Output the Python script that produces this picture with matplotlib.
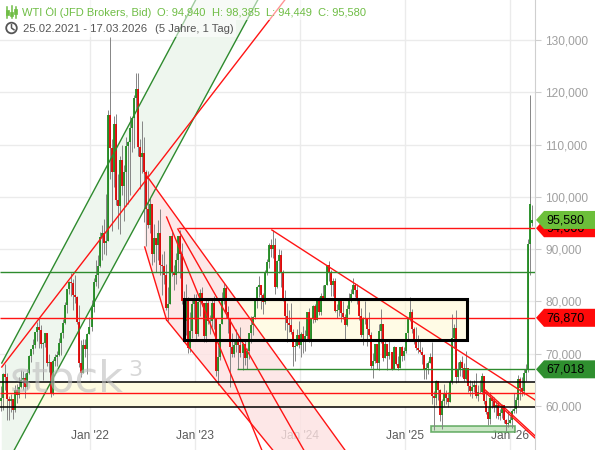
import matplotlib
matplotlib.use("Agg")
import matplotlib.pyplot as plt
import matplotlib.dates as mdates
from matplotlib.patches import Polygon, Rectangle, Circle
import numpy as np
import pandas as pd

plt.rcParams['font.family'] = ['Liberation Sans', 'DejaVu Sans']

# ---------------- weekly OHLC (USD) ----------------
close_2021 = [61.5, 66.1, 65.6, 61.4, 60.9, 61.4, 59.3, 63.1, 62.1, 63.6, 64.9, 65.4, 63.6, 66.3, 69.6, 70.9, 71.6, 74.1, 75.2, 74.6, 71.8, 72.1, 73.9, 68.3, 68.4, 62.3, 68.7, 69.3, 69.7, 72.0, 74.0, 75.9, 79.4, 82.3, 83.8, 83.6, 81.3, 80.8, 76.1, 68.2, 66.3, 71.7, 70.9, 73.8, 75.2]
high_2021 = [63.8, 66.4, 68.0, 66.4, 61.9, 62.3, 61.4, 64.0, 64.2, 65.5, 66.8, 66.7, 66.3, 67.0, 69.8, 70.8, 72.9, 74.2, 76.0, 77.0, 75.5, 72.3, 74.0, 73.9, 70.0, 68.3, 69.0, 70.0, 70.5, 73.1, 74.2, 76.7, 79.8, 82.2, 84.0, 85.4, 84.2, 85.0, 81.1, 79.3, 72.7, 72.9, 72.9, 73.9, 77.0]
low_2021 = [59.0, 59.2, 63.1, 57.3, 57.3, 58.9, 57.6, 58.9, 60.6, 61.5, 63.4, 63.1, 61.6, 63.2, 66.1, 68.5, 70.0, 71.0, 72.5, 71.0, 71.0, 65.0, 71.3, 67.6, 66.5, 61.7, 62.2, 67.6, 67.6, 69.5, 69.7, 73.0, 75.6, 77.8, 81.4, 81.1, 78.3, 79.7, 75.6, 67.5, 65.5, 67.6, 69.3, 66.1, 73.8]

close_2022 = [78.9, 83.8, 85.1, 86.8, 92.3, 93.1, 91.1, 91.6, 115.7, 109.3, 104.7, 113.9, 99.3, 98.3, 107.0, 102.1, 104.7, 109.8, 110.5, 113.2, 115.1, 118.9, 120.7, 109.6, 107.6, 108.4, 104.8, 97.6, 94.7, 98.6, 89.0, 92.1, 90.8, 93.1, 86.9, 86.8, 85.1, 78.7, 79.5, 92.6, 85.6, 85.1, 87.9, 92.6, 89.0, 80.1, 76.3, 80.0, 71.0, 74.3, 79.6, 80.3]
high_2022 = [80.2, 84.4, 87.9, 88.8, 93.2, 94.7, 95.8, 100.5, 116.6, 130.5, 111.1, 115.5, 115.8, 104.4, 107.8, 109.9, 106.0, 111.4, 110.6, 115.5, 115.1, 119.4, 123.7, 123.7, 111.0, 114.5, 111.5, 105.2, 104.9, 99.7, 98.7, 94.8, 92.0, 95.6, 97.6, 89.0, 89.6, 87.2, 82.8, 92.6, 93.6, 86.9, 89.2, 92.3, 93.7, 91.2, 81.9, 83.3, 80.9, 77.9, 80.3, 81.5]
low_2022 = [74.3, 77.9, 82.9, 82.5, 86.6, 87.9, 89.1, 88.8, 92.0, 103.5, 93.5, 101.9, 98.4, 93.9, 92.9, 100.4, 95.3, 98.2, 98.7, 100.3, 108.5, 109.3, 116.5, 107.8, 101.5, 104.6, 95.1, 90.6, 94.0, 93.0, 87.0, 87.6, 85.7, 88.0, 85.0, 81.2, 83.3, 78.3, 76.3, 79.5, 84.8, 82.1, 83.4, 85.7, 84.5, 79.6, 75.3, 73.6, 70.1, 70.3, 73.0, 76.7]

close_2023 = [73.8, 79.9, 81.6, 79.7, 73.4, 79.7, 76.3, 76.3, 79.7, 76.7, 66.7, 69.3, 75.7, 80.7, 82.5, 77.9, 76.8, 71.3, 70.0, 71.7, 72.7, 71.7, 70.2, 71.8, 69.2, 70.6, 73.9, 75.4, 77.1, 80.6, 82.8, 83.2, 81.3, 79.8, 85.6, 87.5, 90.8, 90.0, 90.8, 82.8, 87.7, 88.8, 85.5, 80.5, 77.2, 75.9, 75.5, 74.1, 71.2, 71.4, 73.6, 71.7]
high_2023 = [81.5, 80.1, 82.4, 82.7, 79.7, 80.4, 80.5, 77.5, 80.4, 81.0, 76.9, 71.7, 75.7, 81.8, 83.5, 83.1, 79.2, 76.9, 73.9, 72.6, 74.7, 73.8, 75.1, 72.0, 72.7, 71.0, 73.9, 77.3, 77.3, 80.7, 83.0, 84.9, 83.2, 81.6, 86.0, 88.1, 91.2, 92.0, 93.7, 92.2, 88.0, 90.0, 89.9, 86.0, 82.1, 79.7, 78.3, 79.7, 74.8, 72.7, 74.8, 76.2]
low_2023 = [72.5, 73.4, 77.3, 79.2, 72.3, 72.3, 75.6, 73.8, 75.2, 74.7, 65.7, 64.1, 68.8, 75.7, 79.6, 76.9, 74.0, 63.6, 69.4, 69.4, 70.4, 67.0, 69.4, 66.8, 67.8, 67.1, 69.0, 72.1, 73.5, 76.6, 78.8, 80.9, 78.6, 77.6, 79.6, 85.1, 86.4, 88.5, 88.3, 81.5, 82.5, 85.5, 82.7, 80.1, 74.6, 72.2, 74.2, 73.8, 67.7, 68.7, 71.4, 71.1]

close_2024 = [73.8, 72.7, 73.4, 78.0, 72.3, 76.8, 79.2, 76.5, 80.0, 78.0, 81.0, 80.6, 83.2, 86.9, 85.7, 83.1, 83.9, 78.1, 78.3, 80.1, 77.7, 77.0, 75.5, 78.5, 80.7, 81.5, 83.2, 82.2, 80.1, 77.2, 73.5, 76.8, 76.7, 74.8, 73.6, 67.7, 68.7, 71.9, 68.2, 74.4, 75.6, 69.2, 71.8, 69.5, 70.4, 67.0, 71.2, 68.0, 67.2, 71.3, 69.5, 70.6]
high_2024 = [74.2, 75.3, 74.6, 78.0, 78.8, 76.9, 79.3, 79.6, 80.6, 80.9, 81.6, 83.1, 83.2, 87.0, 87.7, 86.0, 84.5, 84.5, 79.6, 80.2, 79.9, 80.1, 77.6, 79.4, 81.6, 82.4, 84.5, 83.6, 83.4, 80.2, 78.8, 77.1, 80.1, 76.8, 78.0, 74.1, 70.1, 71.9, 71.9, 75.6, 78.5, 75.2, 72.5, 71.6, 72.9, 70.3, 71.5, 71.2, 69.5, 71.3, 71.5, 71.2]
low_2024 = [69.3, 70.1, 70.6, 72.6, 72.3, 71.4, 75.8, 76.1, 76.4, 77.4, 77.4, 80.3, 80.3, 83.4, 84.0, 81.1, 81.1, 77.9, 76.8, 77.3, 76.0, 76.6, 72.5, 75.3, 77.6, 79.8, 81.5, 80.9, 79.6, 76.4, 73.2, 71.7, 75.6, 71.5, 73.3, 67.2, 65.3, 68.3, 67.1, 66.9, 72.1, 68.6, 69.2, 66.8, 69.0, 66.9, 67.0, 67.9, 66.9, 67.3, 68.6, 68.8]

close_2025 = [74.0, 76.6, 77.9, 74.7, 72.5, 71.0, 70.7, 70.4, 69.8, 67.0, 67.2, 68.3, 69.4, 62.0, 61.5, 64.7, 63.0, 58.3, 61.0, 62.5, 61.5, 60.8, 64.6, 73.0, 74.9, 65.5, 67.0, 68.5, 67.3, 65.2, 67.3, 63.9, 62.8, 63.7, 64.0, 61.9, 62.7, 62.7, 65.7, 60.9, 58.9, 57.5, 61.5, 61.0, 59.8, 60.1, 58.1, 58.6, 60.1, 57.4, 56.5, 56.7]
high_2025 = [74.0, 77.1, 80.8, 78.6, 75.1, 75.2, 73.6, 72.9, 71.2, 70.0, 68.3, 68.6, 70.2, 72.2, 62.9, 65.0, 64.8, 63.2, 61.4, 64.2, 63.0, 62.7, 64.9, 77.6, 75.7, 78.4, 68.5, 68.8, 69.6, 68.3, 70.5, 67.2, 64.9, 64.7, 65.0, 66.4, 64.0, 65.0, 66.4, 65.8, 62.8, 59.8, 62.6, 62.0, 61.8, 61.0, 60.9, 59.5, 60.3, 59.9, 57.6, 59.0]
low_2025 = [70.2, 72.9, 76.2, 74.0, 71.9, 70.8, 70.2, 70.2, 68.0, 65.2, 65.2, 66.1, 68.2, 60.4, 55.4, 60.2, 61.2, 57.2, 55.6, 60.0, 60.3, 59.9, 61.2, 64.3, 71.0, 64.4, 64.5, 65.7, 65.5, 64.7, 65.0, 62.7, 61.9, 61.6, 62.7, 61.5, 61.0, 62.5, 62.3, 60.4, 58.4, 56.3, 56.5, 59.6, 58.8, 57.8, 57.5, 57.4, 57.8, 56.8, 55.2, 55.9]

close_2026 = [57.3, 59.1, 59.4, 61.1, 65.2, 63.5, 62.9, 66.4, 67.0, 90.9, 98.7, 95.58]
high_2026 = [58.0, 59.5, 62.4, 61.8, 66.0, 65.5, 65.5, 67.0, 68.0, 92.0, 119.5, 98.385]
low_2026 = [56.8, 55.8, 58.6, 58.6, 60.0, 61.1, 62.0, 62.2, 64.8, 66.5, 85.0, 94.449]

first_week_end = "2021-02-26"
last_day = "2026-03-17"
first_open = 60.9
last_open = 94.94

# ---------------- axis ranges / ticks ----------------
x_range = ("2021-02-22 20:00", "2026-03-28 22:00")
y_range = (51.59, 137.64)
y_ticks = [60, 70, 80, 90, 100, 110, 120, 130]

# ---------------- drawing objects (date, value) ----------------
green_channel_upper = [("2021-03-01", 68.22), ("2023-01-04", 137.64)]
green_channel_lower = [("2021-03-01", 47.19), ("2023-08-08", 137.64)]
red_rising = [("2021-03-01", 67.46), ("2023-11-10", 137.64)]
pink_channel = [("2022-07-11", 104.56), ("2024-06-06", 51.59), ("2023-09-29", 51.59),
                ("2022-09-25", 76.45), ("2022-07-11", 90.41)]
red_falling = [
    [("2022-11-03", 93.85), ("2024-01-15", 51.59)],
    [("2022-09-25", 96.14), ("2023-08-22", 51.59)],
    [("2023-09-26", 93.66), ("2026-03-29", 61.15)],
    [("2025-10-06", 62.68), ("2026-03-29", 53.88)],
    [("2025-10-06", 63.10), ("2026-03-29", 54.30)],
]
level_red_top = (94.0, "2022-11-03")
level_green_mid = 85.63
level_red_mid = 76.87
level_green_low = (67.018, "2023-05-27")
band = (59.81, 64.59, 62.49)
box_range = ("2022-11-26", "2025-08-04", 72.62, 80.46)
green_box = ("2025-03-31", "2026-01-18", 55.0, 56.2)

header_title = "WTI Öl (JFD Brokers, Bid)"
header_ohlc = ["O: 94,940", "H: 98,385", "L: 94,449", "C: 95,580"]
header_range = "25.02.2021 - 17.03.2026"
header_period = "(5 Jahre, 1 Tag)"

RED = '#ff1414'
GREEN = '#2e8b2e'

# ---------------- figure ----------------
W, H = 595, 450
fig = plt.figure(figsize=(W / 100, H / 100), dpi=100)
ax = fig.add_axes([0, 0, 535 / W, 1])
ax.set_xlim(mdates.date2num(pd.Timestamp(x_range[0])), mdates.date2num(pd.Timestamp(x_range[1])))
ax.set_ylim(*y_range)

def D(s):
    return mdates.date2num(pd.Timestamp(s))

def seg(pts, **kw):
    ax.plot([D(p[0]) for p in pts], [p[1] for p in pts], **kw)

x0, x1 = ax.get_xlim()

# fills
gpoly = [green_channel_upper[0], green_channel_upper[1], green_channel_lower[1], green_channel_lower[0]]
ax.add_patch(Polygon([(D(a), b) for a, b in gpoly], closed=True, facecolor='#eef6ee', edgecolor='none', zorder=1))
ax.add_patch(Polygon([(D(a), b) for a, b in pink_channel], closed=True, facecolor='#fde2e2', alpha=0.8, edgecolor='none', zorder=1.2))
ax.add_patch(Rectangle((x0, band[0]), x1 - x0, band[1] - band[0], facecolor='#fefbe1', edgecolor='none', zorder=1))
bx0, bx1 = D(box_range[0]), D(box_range[1])
ax.add_patch(Rectangle((bx0, box_range[2]), bx1 - bx0, box_range[3] - box_range[2], facecolor='#fff9d0', alpha=0.55, edgecolor='none', zorder=1.1))
gx0, gx1 = D(green_box[0]), D(green_box[1])
ax.add_patch(Rectangle((gx0, green_box[2]), gx1 - gx0, green_box[3] - green_box[2], facecolor='#bfe0b8', alpha=0.8, edgecolor='#4ea04e', lw=1.2, zorder=2))

# candles
closes = close_2021 + close_2022 + close_2023 + close_2024 + close_2025 + close_2026
highs = high_2021 + high_2022 + high_2023 + high_2024 + high_2025 + high_2026
lows = low_2021 + low_2022 + low_2023 + low_2024 + low_2025 + low_2026
n = len(closes)
dates = list(pd.date_range(first_week_end, periods=n - 1, freq='W-FRI')) + [pd.Timestamp(last_day)]
d = mdates.date2num(dates)
c = np.array(closes)
o = np.array([first_open] + closes[:-1])
o[-1] = last_open
h = np.maximum.reduce([np.array(highs), o, c])
l = np.minimum.reduce([np.array(lows), o, c])
up = c >= o
ax.vlines(d, l, h, color='#858585', lw=0.7, zorder=3)
ax.vlines(d, np.minimum(o, c), np.maximum(o, c), colors=np.where(up, '#1e8a1e', '#e00000'), lw=1.3, zorder=3.5)

# trend lines
seg(green_channel_upper, color=GREEN, lw=1, zorder=4)
seg(green_channel_lower, color=GREEN, lw=1, zorder=4)
seg(red_rising, color=RED, lw=1, zorder=4)
seg([pink_channel[0], pink_channel[1]], color=RED, lw=1, zorder=4)
seg([pink_channel[3], pink_channel[2]], color=RED, lw=1, zorder=4)
seg([pink_channel[4], pink_channel[3]], color=RED, lw=1, zorder=4)
for ln in red_falling:
    seg(ln, color=RED, lw=1, zorder=4)

# horizontal levels
ax.hlines(level_red_top[0], D(level_red_top[1]), x1, color=RED, lw=1, zorder=4)
ax.hlines(level_green_mid, x0, x1, color=GREEN, lw=1, zorder=4)
ax.hlines(level_red_mid, x0, x1, color=RED, lw=1, zorder=4)
ax.hlines(level_green_low[0], D(level_green_low[1]), x1, color=GREEN, lw=1, zorder=4)
ax.hlines([band[0], band[1]], x0, x1, color='black', lw=1.1, zorder=4)
ax.hlines(band[2], x0, x1, color=RED, lw=1, zorder=4)
ax.add_patch(Rectangle((bx0, box_range[2]), bx1 - bx0, box_range[3] - box_range[2], facecolor='none', edgecolor='black', lw=2.2, zorder=5))

# axes styling
for s in ['top', 'left', 'bottom']:
    ax.spines[s].set_visible(False)
ax.spines['right'].set_color('#cfcfcf')
ax.yaxis.tick_right()
ax.set_yticks(y_ticks)
ax.set_yticklabels([f"{v:.3f}".replace('.', ',') for v in y_ticks])
ax.tick_params(axis='y', length=4.5, width=0.8, color='#cfcfcf', labelcolor='#a0a0a0', labelsize=8.6, pad=3)
ax.xaxis.set_major_locator(mdates.YearLocator())
ax.xaxis.set_major_formatter(mdates.DateFormatter("Jan '%y"))
ax.tick_params(axis='x', length=0, pad=-14.5, labelcolor='#5a5a5a', labelsize=8.6)
ax.grid(True, color='#ebebeb', lw=1)
ax.set_axisbelow(True)

# ---------------- overlay (pixel coords) ----------------
ov = fig.add_axes([0, 0, 1, 1], zorder=10)
ov.set_xlim(0, W)
ov.set_ylim(H, 0)
ov.axis('off')
ov.patch.set_alpha(0)

def py(v):
    return H - ax.transData.transform((x0, v))[1]

# watermark
ov.text(10, 392, "stock", fontsize=31, color='#bdbdbd', alpha=0.6, family='DejaVu Sans', va='baseline', ha='left', zorder=1)
ov.text(128, 376, "3", fontsize=16, color='#bdbdbd', alpha=0.6, family='DejaVu Sans', va='baseline', ha='left', zorder=1)

# price badges (later ones on top)
fmt = lambda v: f"{v:.3f}".replace('.', ',')
def badge(v, color, text, z):
    yc = py(v)
    ov.add_patch(Polygon([(536, yc), (544, yc - 9), (W, yc - 9), (W, yc + 9), (544, yc + 9)],
                         closed=True, facecolor=color, edgecolor='none', zorder=z))
    ov.text(546, yc + 0.5, text, fontsize=9, color='black', va='center', ha='left', zorder=z + 0.5)

badge(level_red_top[0], '#ff0a0a', fmt(level_red_top[0]), 3)
badge(closes[-1], '#6cbf3a', fmt(closes[-1]), 4)
badge(level_red_mid, '#ff0a0a', fmt(level_red_mid), 5)
badge(level_green_low[0], '#2f8f2f', fmt(level_green_low[0]), 6)

# header background
ov.add_patch(Rectangle((0, 0), 335, 20, facecolor='white', alpha=0.55, edgecolor='none', zorder=8))
ov.add_patch(Rectangle((0, 20), 236, 17, facecolor='white', alpha=0.55, edgecolor='none', zorder=8))

HG = '#6fbd45'
# candle icon
for xi, (t, b, bt, bb) in zip([7.3, 11.5, 15.7], [(7, 18, 10, 15), (6, 18, 12, 16), (7, 18, 9, 14)]):
    ov.plot([xi, xi], [t, b], color=HG, lw=1.1, zorder=9)
    ov.add_patch(Rectangle((xi - 1.6, bt), 3.2, bb - bt, facecolor=HG, edgecolor=HG, lw=0.5, zorder=9))
# clock icon
ov.add_patch(Circle((11.5, 28), 5.3, facecolor='none', edgecolor='#555555', lw=1.3, zorder=9))
ov.plot([11.5, 11.5, 14], [24.8, 28, 29.8], color='#555555', lw=1.1, zorder=9)

# header texts, chained so pieces never collide
renderer = fig.canvas.get_renderer()
def chain(parts, y, color, size, gap):
    x = parts[0][1]
    for txt, want in parts:
        xx = max(want, x)
        t = ov.text(xx, y, txt, fontsize=size, color=color, va='center', ha='left', zorder=10)
        bb = t.get_window_extent(renderer=renderer)
        x = xx + bb.width + gap

chain([(header_title, 22)] + list(zip(header_ohlc, [157, 211, 263, 316])), 12.5, HG, 8.0, 6)
chain([(header_range, 23), (header_period, 152)], 28.5, '#555555', 8.1, 8)

fig.savefig("out.png", dpi=100)
